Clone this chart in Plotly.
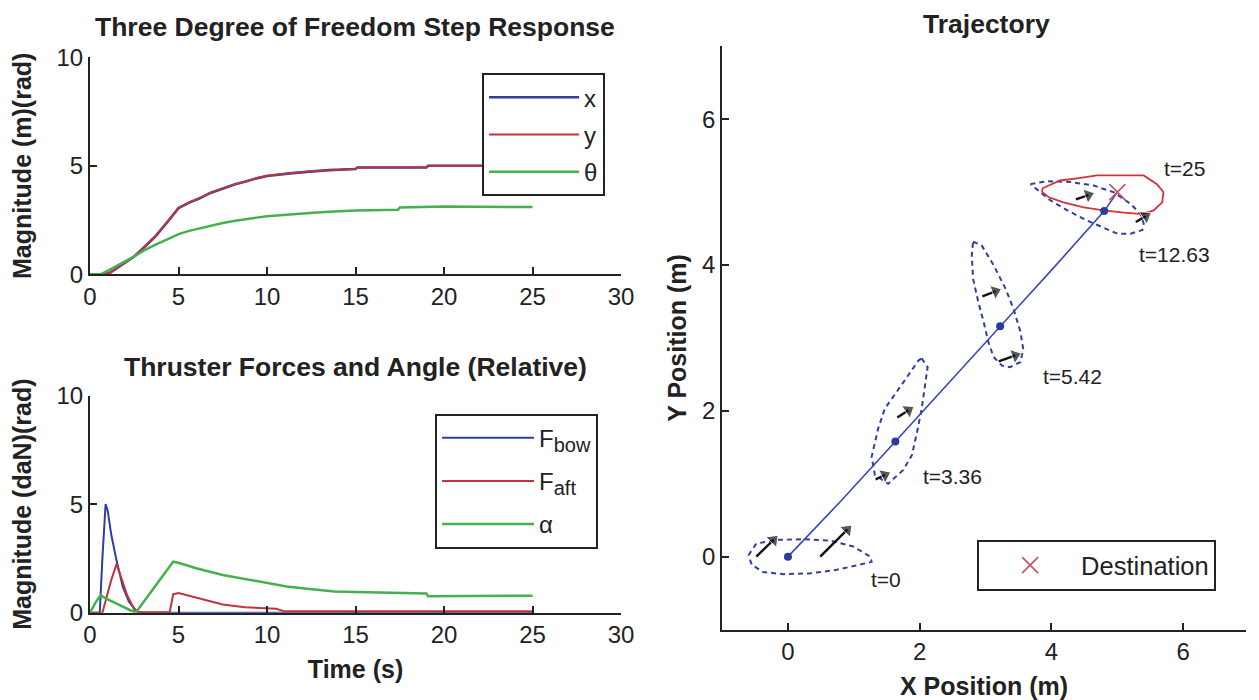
import plotly.graph_objects as go

# ---------------- data: three-DOF step response ----------------
t_x = [0, 0.6, 1.15, 1.85, 2.5, 3.0, 3.7, 4.4, 5.0, 5.6, 6.2, 6.8, 7.5, 8.2, 8.8, 9.4,
       10.0, 10.7, 11.3, 12.4, 13.5, 15.0, 15.1, 19.0, 19.1, 25.0]
x_resp = [0, 0, 0.08, 0.46, 0.82, 1.2, 1.75, 2.44, 3.05, 3.3, 3.5, 3.75, 3.96, 4.15, 4.27, 4.42,
          4.53, 4.6, 4.65, 4.73, 4.8, 4.85, 4.92, 4.92, 5.0, 5.0]
y_resp = [0, 0, 0.07, 0.45, 0.83, 1.21, 1.76, 2.45, 3.06, 3.32, 3.52, 3.77, 3.97, 4.16, 4.28, 4.43,
          4.54, 4.61, 4.66, 4.74, 4.8, 4.86, 4.93, 4.93, 5.0, 5.0]
t_theta = [0, 0.6, 1.15, 1.85, 2.5, 3.0, 3.7, 4.4, 5.0, 5.6, 6.2, 6.8, 7.5, 8.2, 8.8, 9.4,
           10.0, 10.7, 11.3, 12.4, 13.5, 15.0, 17.4, 17.5, 20.0, 25.0]
theta_resp = [0, 0, 0.23, 0.53, 0.82, 1.08, 1.37, 1.62, 1.85, 2.0, 2.12, 2.25, 2.36, 2.47, 2.55, 2.61,
              2.67, 2.72, 2.76, 2.82, 2.88, 2.94, 2.97, 3.08, 3.12, 3.1]

# ---------------- data: thruster forces and angle ----------------
t_bow = [0, 0.55, 0.7, 0.88, 1.0, 1.2, 1.5, 1.85, 2.2, 2.65, 3.0, 25.0]
f_bow = [0, 0, 2.5, 5.0, 4.7, 3.6, 2.4, 1.2, 0.5, 0.05, 0, 0]
t_aft = [0, 0.7, 1.0, 1.2, 1.5, 1.8, 2.1, 2.5, 2.8, 4.5, 4.7, 5.0, 5.5, 6.45, 7.5, 8.75,
         10.0, 10.5, 11.0, 25.0]
f_aft = [0, 0, 0.9, 1.5, 2.25, 1.5, 0.8, 0.15, 0.02, 0.02, 0.85, 0.9, 0.8, 0.6, 0.38, 0.25,
         0.2, 0.18, 0.06, 0.06]
t_alpha = [0, 0.3, 0.6, 0.9, 1.3, 1.8, 2.3, 2.6, 3.2, 3.7, 4.2, 4.7, 5.0, 6.0, 7.5, 8.75,
           10.0, 11.1, 12.4, 13.8, 15.0, 16.8, 19.0, 19.1, 22.0, 25.0]
alpha = [0, 0.45, 0.8, 0.65, 0.5, 0.3, 0.1, 0.02, 0.67, 1.23, 1.79, 2.35, 2.3, 2.05, 1.74, 1.55,
         1.36, 1.21, 1.09, 0.98, 0.95, 0.91, 0.88, 0.76, 0.77, 0.78]

# ---------------- data: trajectory ----------------
traj_x = [0, 0.8, 1.63, 2.4, 3.22, 4.0, 4.8, 5.0]
traj_y = [0, 0.76, 1.58, 2.34, 3.16, 3.93, 4.74, 5.0]
pose_x = [0, 1.63, 3.22, 4.8]
pose_y = [0, 1.58, 3.16, 4.74]
dest_x = [5.0]
dest_y = [5.0]

boat_t0_x = [-0.60, -0.48, -0.17, 0.23, 0.64, 0.99, 1.25, 1.27, 1.09, 0.74, 0.33, -0.07, -0.38, -0.55, -0.60]
boat_t0_y = [0.02, 0.18, 0.23, 0.24, 0.22, 0.14, 0.0, -0.07, -0.11, -0.18, -0.23, -0.24, -0.21, -0.11, 0.02]
boat_t1_x = [2.03, 2.12, 2.08, 2.03, 1.96, 1.88, 1.75, 1.60, 1.52, 1.32, 1.27, 1.37, 1.47, 1.65, 1.85, 1.98, 2.03]
boat_t1_y = [2.72, 2.60, 2.35, 2.03, 1.71, 1.39, 1.19, 1.07, 1.00, 1.12, 1.37, 1.76, 2.03, 2.26, 2.53, 2.69, 2.72]
boat_t2_x = [2.81, 2.94, 3.12, 3.30, 3.42, 3.53, 3.57, 3.53, 3.37, 3.25, 3.12, 3.04, 2.97, 2.89, 2.81, 2.79, 2.81]
boat_t2_y = [4.32, 4.27, 4.00, 3.68, 3.41, 3.08, 2.85, 2.67, 2.60, 2.62, 2.74, 2.95, 3.22, 3.49, 3.81, 4.13, 4.32]
boat_t3_x = [3.68, 3.93, 4.29, 4.64, 4.94, 5.20, 5.35, 5.40, 5.38, 5.20, 5.00, 4.79, 4.54, 4.24, 3.98, 3.83, 3.68]
boat_t3_y = [5.11, 5.15, 5.14, 5.09, 5.00, 4.84, 4.70, 4.57, 4.48, 4.43, 4.43, 4.51, 4.61, 4.75, 4.89, 5.00, 5.11]
boat_t4_x = [3.86, 4.13, 4.39, 4.69, 5.40, 5.60, 5.70, 5.68, 5.55, 5.38, 5.10, 4.79, 4.49, 4.18, 3.96, 3.86, 3.86]
boat_t4_y = [5.05, 5.16, 5.19, 5.23, 5.23, 5.11, 5.00, 4.86, 4.75, 4.70, 4.72, 4.75, 4.79, 4.86, 4.93, 5.00, 5.05]

arrow_tail_x = [-0.48, 0.49, 1.66, 1.33, 2.95, 3.20, 4.37, 5.28]
arrow_tail_y = [0.00, 0.00, 1.91, 1.06, 3.57, 2.68, 4.90, 4.59]
arrow_head_x = [-0.22, 0.90, 1.83, 1.47, 3.15, 3.45, 4.56, 5.43]
arrow_head_y = [0.23, 0.37, 2.01, 1.12, 3.64, 2.76, 4.96, 4.67]

time_labels = ["t=0", "t=3.36", "t=5.42", "t=12.63", "t=25"]
time_label_x = [1.49, 2.49, 4.32, 5.87, 6.02]
time_label_y = [-0.32, 1.10, 2.47, 4.15, 5.32]

# ---------------- styling ----------------
W, H = 1259, 700
FONT = "Liberation Sans, Arial, sans-serif"
BLUE = "#2f3f9f"
RED = "#c0343e"
GREEN = "#45b04f"
AXC = "#222222"
TICK_SIZE = 24
LEG_SIZE = 24
TITLE_SIZE = 26.5
LABEL_SIZE = 25

# the captured page shows the figure slightly inset/scaled; map target screen pixels
# to figure pixels so the layout lands where the reference has it
SX, OX = 0.984, 7.0
SY, OY = 0.966, 11.5


def px_x(p):
    return ((p - OX) / SX) / W


def px_y(p):
    return 1 - ((p - OY) / SY) / H


fig = go.Figure()

fig.add_trace(go.Scatter(x=t_x, y=x_resp, mode="lines", name="x", line=dict(color=BLUE, width=2.6),
                         xaxis="x", yaxis="y", legend="legend", legendgroup="a"))
fig.add_trace(go.Scatter(x=t_x, y=y_resp, mode="lines", name="y", line=dict(color=RED, width=1.8),
                         xaxis="x", yaxis="y", legend="legend", legendgroup="b"))
fig.add_trace(go.Scatter(x=t_theta, y=theta_resp, mode="lines", name="\u03b8", line=dict(color=GREEN, width=2.5),
                         xaxis="x", yaxis="y", legend="legend", legendgroup="c"))

SUB = "<sub><span style='font-size:20px'>%s</span></sub>"
fig.add_trace(go.Scatter(x=t_bow, y=f_bow, mode="lines", name="F" + SUB % "bow", line=dict(color=BLUE, width=2),
                         xaxis="x2", yaxis="y2", legend="legend2", legendgroup="d"))
fig.add_trace(go.Scatter(x=t_aft, y=f_aft, mode="lines", name="F" + SUB % "aft", line=dict(color=RED, width=2),
                         xaxis="x2", yaxis="y2", legend="legend2", legendgroup="e"))
fig.add_trace(go.Scatter(x=t_alpha, y=alpha, mode="lines", name="\u03b1", line=dict(color=GREEN, width=2.5),
                         xaxis="x2", yaxis="y2", legend="legend2", legendgroup="f"))

boats = [(boat_t0_x, boat_t0_y, BLUE, True), (boat_t1_x, boat_t1_y, BLUE, True),
         (boat_t2_x, boat_t2_y, BLUE, True), (boat_t3_x, boat_t3_y, BLUE, True),
         (boat_t4_x, boat_t4_y, "#d2323c", False)]
for bx, by, col, dashed in boats:
    fig.add_trace(go.Scatter(x=bx, y=by, mode="lines", showlegend=False,
                             line=dict(color=col, width=2 if dashed else 1.8,
                                       dash="5px,4px" if dashed else "solid"),
                             xaxis="x3", yaxis="y3", hoverinfo="skip"))
fig.add_trace(go.Scatter(x=traj_x, y=traj_y, mode="lines", showlegend=False,
                         line=dict(color="#3a48b0", width=1.6), xaxis="x3", yaxis="y3"))
fig.add_trace(go.Scatter(x=pose_x, y=pose_y, mode="markers", showlegend=False,
                         marker=dict(color="#2a3a9e", size=8), xaxis="x3", yaxis="y3"))
fig.add_trace(go.Scatter(x=dest_x, y=dest_y, mode="markers", name="Destination",
                         marker=dict(symbol="x-thin", size=16, line=dict(color="#c8505c", width=1.6)),
                         xaxis="x3", yaxis="y3", legend="legend3"))

# thruster arrows (quiver): shaft plus a head oriented along the shaft
for hx, hy, tx, ty in zip(arrow_head_x, arrow_head_y, arrow_tail_x, arrow_tail_y):
    fig.add_trace(go.Scatter(x=[tx, hx], y=[ty, hy], mode="lines+markers", showlegend=False,
                             line=dict(color="#111111", width=2.4),
                             marker=dict(symbol="triangle-up", size=[0, 13], angleref="previous",
                                         color="#111111"),
                             xaxis="x3", yaxis="y3", hoverinfo="skip"))

for lab, lx, ly in zip(time_labels, time_label_x, time_label_y):
    fig.add_annotation(x=lx, y=ly, xref="x3", yref="y3", text=lab, showarrow=False,
                       font=dict(family=FONT, size=21, color="#222"))

titles = [("Three Degree of Freedom Step Response", 355, 25),
          ("Thruster Forces and Angle (Relative)", 355, 366),
          ("Trajectory", 986, 22)]
for txt, cx, cy in titles:
    fig.add_annotation(x=px_x(cx), y=px_y(cy), xref="paper", yref="paper", text="<b>%s</b>" % txt,
                       showarrow=False, font=dict(family=FONT, size=TITLE_SIZE, color="#222"),
                       xanchor="center", yanchor="middle")

axis_common = dict(showline=True, linecolor=AXC, linewidth=2, ticks="inside", ticklen=7,
                   tickwidth=2, tickcolor=AXC, showgrid=False, zeroline=False,
                   tickfont=dict(family=FONT, size=TICK_SIZE, color="#222"), mirror=False)
label_font = dict(family=FONT, size=LABEL_SIZE, color="#222")

x3_right = min(1.0, px_x(1249))
x3_max = -1 + 8 * (x3_right * W * SX + OX - 722) / (1249 - 722)

legend_common = dict(xanchor="left", yanchor="top", bgcolor="white", bordercolor=AXC, borderwidth=2)

fig.update_layout(
    width=W, height=H, margin=dict(l=0, r=0, t=0, b=0),
    paper_bgcolor="white", plot_bgcolor="white",
    xaxis=dict(domain=[px_x(90), px_x(621)], range=[0, 30], tickvals=[0, 5, 10, 15, 20, 25, 30],
               anchor="y", **axis_common),
    yaxis=dict(domain=[px_y(273), px_y(55)], range=[0, 10], tickvals=[0, 5, 10], anchor="x",
               title=dict(text="<b>Magnitude (m)(rad)</b>", font=label_font, standoff=18), **axis_common),
    xaxis2=dict(domain=[px_x(90), px_x(621)], range=[0, 30], tickvals=[0, 5, 10, 15, 20, 25, 30],
                anchor="y2", title=dict(text="<b>Time (s)</b>", font=label_font, standoff=13), **axis_common),
    yaxis2=dict(domain=[px_y(613), px_y(395)], range=[0, 10], tickvals=[0, 5, 10], anchor="x2",
                title=dict(text="<b>Magnitude (daN)(rad)</b>", font=label_font, standoff=18), **axis_common),
    xaxis3=dict(domain=[px_x(722), x3_right], range=[-1, x3_max], tickvals=[0, 2, 4, 6], anchor="y3",
                title=dict(text="<b>X Position (m)</b>", font=label_font, standoff=15), **axis_common),
    yaxis3=dict(domain=[px_y(630), px_y(44)], range=[-1, 7], tickvals=[0, 2, 4, 6], anchor="x3",
                title=dict(text="<b>Y Position (m)</b>", font=label_font, standoff=8), **axis_common),
    legend=dict(x=px_x(482), y=px_y(71), font=dict(family=FONT, size=LEG_SIZE, color="#222"),
                tracegroupgap=3, itemwidth=90, **legend_common),
    legend2=dict(x=px_x(435), y=px_y(413), font=dict(family=FONT, size=LEG_SIZE, color="#222"),
                 tracegroupgap=9, itemwidth=92, **legend_common),
    legend3=dict(x=px_x(977), y=px_y(540), font=dict(family=FONT, size=25.5, color="#222"),
                 itemwidth=92, **legend_common),
    showlegend=True,
)

fig.write_html("out.html")
